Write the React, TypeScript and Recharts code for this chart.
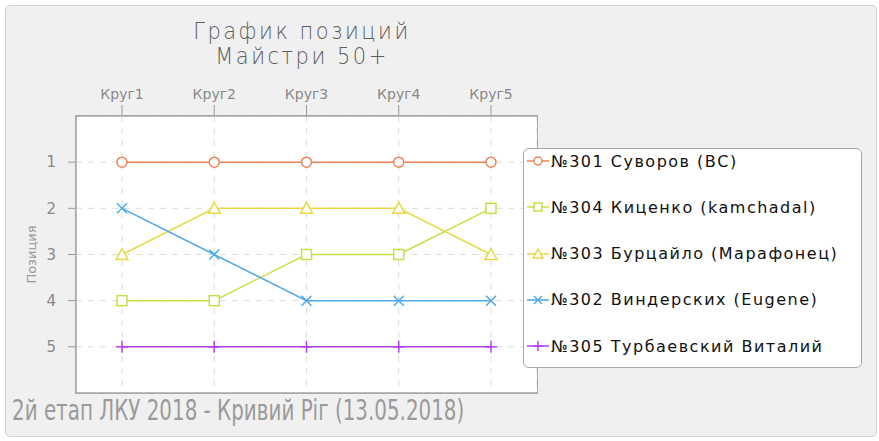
import React from 'react';
import { LineChart, Line, XAxis, YAxis, CartesianGrid, ReferenceLine } from 'recharts';

const rounds = ['Круг1', 'Круг2', 'Круг3', 'Круг4', 'Круг5'];
const s301 = [1, 1, 1, 1, 1];
const s304 = [4, 4, 3, 3, 2];
const s303 = [3, 2, 2, 2, 3];
const s302 = [2, 3, 4, 4, 4];
const s305 = [5, 5, 5, 5, 5];
const yTicks = [1, 2, 3, 4, 5];

const series = [
  { key: 's301', name: '№301 Суворов (ВС)', values: s301, color: '#f08355', shape: 'circle' },
  { key: 's304', name: '№304 Киценко (kamchadal)', values: s304, color: '#c8e045', shape: 'square' },
  { key: 's303', name: '№303 Бурцайло (Марафонец)', values: s303, color: '#e8d944', shape: 'triangle' },
  { key: 's302', name: '№302 Виндерских (Eugene)', values: s302, color: '#4ea9ea', shape: 'cross' },
  { key: 's305', name: '№305 Турбаевский Виталий', values: s305, color: '#b640f0', shape: 'plus' },
];

const data = rounds.map((r, i) => {
  const row: any = { round: r };
  series.forEach((s) => (row[s.key] = s.values[i]));
  return row;
});

const dejavu = "'DejaVu Sans', sans-serif";

function Marker({ shape, cx, cy, color, size = 5, fill = '#fff' }: any) {
  const sw = 1.5;
  if (cx == null || cy == null) return null;
  switch (shape) {
    case 'circle':
      return <circle cx={cx} cy={cy} r={size} fill={fill} stroke={color} strokeWidth={sw} />;
    case 'square':
      return <rect x={cx - size} y={cy - size} width={size * 2} height={size * 2} fill={fill} stroke={color} strokeWidth={sw} />;
    case 'triangle':
      return (
        <polygon
          points={`${cx},${cy - size - 1} ${cx - size - 1},${cy + size} ${cx + size + 1},${cy + size}`}
          fill={fill}
          stroke={color}
          strokeWidth={sw}
        />
      );
    case 'cross':
      return (
        <g stroke={color} strokeWidth={sw}>
          <line x1={cx - size} y1={cy - size} x2={cx + size} y2={cy + size} />
          <line x1={cx - size} y1={cy + size} x2={cx + size} y2={cy - size} />
        </g>
      );
    case 'plus':
      return (
        <g stroke={color} strokeWidth={sw}>
          <line x1={cx} y1={cy - size - 1} x2={cx} y2={cy + size + 1} />
          <line x1={cx - size - 1} y1={cy} x2={cx + size + 1} y2={cy} />
        </g>
      );
    default:
      return null;
  }
}

function LegendBox() {
  return (
    <div
      style={{
        position: 'absolute',
        left: 523,
        top: 148,
        width: 339,
        height: 220,
        background: '#fff',
        border: '1px solid #a8a8a8',
        borderRadius: 6,
        boxSizing: 'border-box',
      }}
    >
      {series.map((s, i) => (
        <div
          key={s.key}
          style={{
            position: 'absolute',
            left: 3,
            top: 12 + i * 46.25 - 10,
            height: 20,
            display: 'flex',
            alignItems: 'center',
            whiteSpace: 'nowrap',
          }}
        >
          <svg width={22} height={20} style={{ display: 'block' }}>
            <line x1={0} y1={10} x2={22} y2={10} stroke={s.color} strokeWidth={1.5} />
            <Marker shape={s.shape} cx={11} cy={10} color={s.color} size={4} />
          </svg>
          <span
            style={{
              marginLeft: 2,
              fontFamily: dejavu,
              fontSize: 16,
              letterSpacing: 1.5,
              color: '#111',
            }}
          >
            {s.name}
          </span>
        </div>
      ))}
    </div>
  );
}

export default function App() {
  return (
    <div style={{ position: 'absolute', left: 0, top: 0, width: 879, height: 441, background: '#fff' }}>
      <div
        style={{
          position: 'absolute',
          left: 5,
          top: 5,
          width: 872,
          height: 432,
          boxSizing: 'border-box',
          border: '1px solid #d2d2d2',
          borderRadius: 5,
          background: '#f0f0f0',
        }}
      />
      <div
        style={{
          position: 'absolute',
          left: 102,
          width: 400,
          top: 19,
          textAlign: 'center',
          fontFamily: dejavu,
          fontWeight: 200,
          fontSize: 21,
          letterSpacing: 2.5,
          lineHeight: '22px',
          color: '#5e5e5e',
          transform: 'scaleY(1.12)',
          transformOrigin: 'center top',
        }}
      >
        <div>График позиций</div>
        <div>Майстри 50+</div>
      </div>
      <div
        style={{
          position: 'absolute',
          left: 12,
          top: 395,
          fontFamily: dejavu,
          fontSize: 28,
          lineHeight: '32px',
          color: '#9a9a9a',
          whiteSpace: 'nowrap',
          transform: 'scaleX(0.71)',
          transformOrigin: 'left center',
        }}
      >
        2й етап ЛКУ 2018 - Кривий Ріг (13.05.2018)
      </div>
      <div style={{ position: 'absolute', left: 0, top: 0 }}>
        <LineChart
          width={879}
          height={441}
          data={data}
          margin={{ top: 0, left: 0, right: 342, bottom: 48 }}
        >
          <CartesianGrid fill="#fff" stroke="#dcdcdc" strokeDasharray="6 6" />
          <XAxis
            dataKey="round"
            orientation="top"
            height={116}
            padding={{ left: 46, right: 46 }}
            axisLine={{ stroke: '#a8a8a8', strokeWidth: 1.5 }}
            tickLine={{ stroke: '#999' }}
            tickSize={11}
            tickMargin={6}
            tick={{ fill: '#888', fontSize: 14, fontFamily: dejavu }}
            interval={0}
          />
          <YAxis
            type="number"
            domain={[0, 6]}
            reversed
            ticks={yTicks}
            width={76}
            axisLine={{ stroke: '#a8a8a8', strokeWidth: 1.5 }}
            tickLine={{ stroke: '#999' }}
            tickSize={8}
            tickMargin={12}
            tick={{ fill: '#888', fontSize: 15, fontFamily: dejavu }}
            label={{
              value: 'Позиция',
              angle: -90,
              position: 'insideLeft',
              offset: 31,
              style: { fill: '#999', fontSize: 13, fontFamily: dejavu, textAnchor: 'middle' },
            }}
          />
          <YAxis
            yAxisId="r"
            type="number"
            domain={[0, 6]}
            orientation="right"
            width={0}
            axisLine={{ stroke: '#a8a8a8', strokeWidth: 1.5 }}
            tickLine={false}
            tick={false}
          />
          <ReferenceLine y={6} stroke="#a8a8a8" strokeWidth={1.5} ifOverflow="visible" />
          {series.map((s) => (
            <Line
              key={s.key}
              dataKey={s.key}
              name={s.name}
              stroke={s.color}
              strokeWidth={1.5}
              isAnimationActive={false}
              dot={(p: any) => <Marker key={`${s.key}-${p.index}`} shape={s.shape} cx={p.cx} cy={p.cy} color={s.color} size={5} />}
              activeDot={false}
            />
          ))}
        </LineChart>
      </div>
      <div
        style={{
          position: 'absolute',
          left: 75.25,
          top: 115.25,
          width: 462.5,
          height: 278.5,
          boxSizing: 'border-box',
          border: '1.5px solid #a8a8a8',
          pointerEvents: 'none',
        }}
      />
      <LegendBox />
    </div>
  );
}
